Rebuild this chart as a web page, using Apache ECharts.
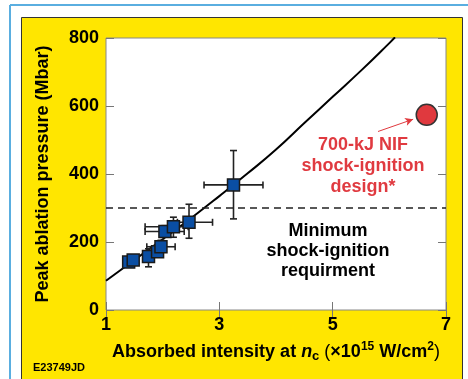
<!DOCTYPE html>
<html>
<head>
<meta charset="utf-8">
<script src="https://cdn.jsdelivr.net/npm/echarts@6/dist/echarts.min.js"></script>
<style>
	html, body { margin: 0; padding: 0; background: #fff; }
	#chart { width: 468px; height: 379px; }
</style>
</head>
<body>
<div id="chart"></div>
<script>
// x 轴刻度
const xTicks = [1, 3, 5, 7]
const yTicks = [0, 200, 400, 600, 800]

// 拟合曲线
const fitX = [1, 1.5, 2, 2.5, 3, 3.5, 4, 4.5, 5, 5.5, 6, 6.1]
const fitY = [86, 147, 208, 270, 335, 402, 472, 550, 627, 704, 785, 802]

// 实验点 + 误差棒
const expX = [1.40, 1.48, 1.75, 1.91, 1.97, 2.04, 2.19, 2.465, 3.25]
const expY = [141, 147, 157, 171, 186, 231, 245, 258, 368]
const xLo = [1.36, 1.44, 1.68, 1.84, 1.72, 1.69, 1.69, 2.26, 2.73]
const xHi = [1.44, 1.52, 1.84, 2.00, 2.22, 2.38, 2.45, 2.88, 3.77]
const yLo = [133, 139, 127, 158, 170, 215, 214, 211, 268]
const yHi = [149, 155, 180, 184, 205, 248, 273, 311, 469]

// NIF 设计点
const nifX = 6.66
const nifY = 574
const arrowFrom = [5.8, 525]
const arrowTo = [6.42, 561]
const threshold = 300

const myChart = echarts.init(document.getElementById('chart'))

const font = 'Liberation Sans, Arial, Helvetica, sans-serif'

let scatterData = expX.map((x, i) => [x, expY[i]])
let errData = expX.map((x, i) => [x, expY[i], xLo[i], xHi[i], yLo[i], yHi[i]])

function renderErr(params, api) {
	const c = api.coord([api.value(0), api.value(1)])
	const l = api.coord([api.value(2), api.value(1)])
	const r = api.coord([api.value(3), api.value(1)])
	const b = api.coord([api.value(0), api.value(4)])
	const t = api.coord([api.value(0), api.value(5)])
	const cap = 3.5
	const style = { stroke: '#222', lineWidth: 1.6 }
	const line = (x1, y1, x2, y2) => ({ type: 'line', shape: { x1, y1, x2, y2 }, style })
	return {
		type: 'group',
		children: [
			line(l[0], c[1], r[0], c[1]),
			line(l[0], c[1] - cap, l[0], c[1] + cap),
			line(r[0], c[1] - cap, r[0], c[1] + cap),
			line(c[0], b[1], c[0], t[1]),
			line(c[0] - cap, b[1], c[0] + cap, b[1]),
			line(c[0] - cap, t[1], c[0] + cap, t[1]),
		],
	}
}

const tickStyle = { show: true, inside: true, length: 8, lineStyle: { color: '#777', width: 1 } }

let option = {
	animation: false,
	textStyle: { fontFamily: font },
	graphic: [
		{ type: 'line', z: -20, shape: { x1: 10, y1: 5, x2: 10, y2: 379 }, style: { stroke: '#5AAEE0', lineWidth: 2 } },
		{ type: 'line', z: -20, shape: { x1: 10, y1: 5, x2: 468, y2: 5 }, style: { stroke: '#5AAEE0', lineWidth: 2 } },
		{ type: 'rect', z: -10, shape: { x: 21.5, y: 17.5, width: 441, height: 380 }, style: { fill: '#FFE600', stroke: '#333', lineWidth: 1 } },
		{
			type: 'text', x: 363, y: 166, z: 50,
			style: {
				text: '700-kJ NIF\nshock-ignition\ndesign*',
				fill: '#E03A40', font: 'bold 18px ' + font,
				align: 'center', verticalAlign: 'middle', lineHeight: 21,
			},
		},
		{
			type: 'text', x: 328, y: 251, z: 50,
			style: {
				text: 'Minimum\nshock-ignition\nrequirment',
				fill: '#000', font: 'bold 18px ' + font,
				align: 'center', verticalAlign: 'middle', lineHeight: 20,
			},
		},
		{
			type: 'text', x: 33, y: 368, z: 50,
			style: { text: 'E23749JD', fill: '#000', font: 'bold 11px ' + font, verticalAlign: 'middle' },
		},
	],
	grid: {
		left: 106,
		top: 38,
		width: 340,
		height: 272,
		show: true,
		backgroundColor: '#fff',
		borderColor: '#888',
		borderWidth: 1,
	},
	xAxis: [
		{
			type: 'value',
			min: xTicks[0],
			max: xTicks[xTicks.length - 1],
			interval: 2,
			splitLine: { show: false },
			axisLine: { show: false },
			axisTick: tickStyle,
			axisLabel: { color: '#000', fontSize: 18, fontWeight: 'bold', margin: 6 },
			name: '{b|Absorbed intensity at }{i|n}{sub|c}{p| (}{b|×10}{sup|15}{b| W/cm}{sup|2}{p|)}',
			nameLocation: 'middle',
			nameGap: 31,
			nameTextStyle: {
				rich: {
					b: { fontSize: 18, fontWeight: 'bold', color: '#000', lineHeight: 22 },
					i: { fontSize: 18, fontWeight: 'bold', fontStyle: 'italic', color: '#000', lineHeight: 22 },
					p: { fontSize: 18, fontWeight: 'normal', color: '#000', lineHeight: 22 },
					sub: { fontSize: 13, fontWeight: 'bold', color: '#000', lineHeight: 13, verticalAlign: 'bottom' },
					sup: { fontSize: 12, fontWeight: 'bold', color: '#000', lineHeight: 12, verticalAlign: 'top' },
				},
			},
		},
		{
			type: 'value',
			position: 'top',
			min: xTicks[0],
			max: xTicks[xTicks.length - 1],
			interval: 2,
			splitLine: { show: false },
			axisLine: { show: false },
			axisTick: tickStyle,
			axisLabel: { show: false },
		},
	],
	yAxis: [
		{
			type: 'value',
			min: yTicks[0],
			max: yTicks[yTicks.length - 1],
			interval: 200,
			splitLine: { show: false },
			axisLine: { show: false },
			axisTick: tickStyle,
			axisLabel: { color: '#000', fontSize: 18, fontWeight: 'bold', margin: 7 },
			name: 'Peak ablation pressure (Mbar)',
			nameLocation: 'middle',
			nameGap: 54,
			nameTextStyle: { color: '#000', fontSize: 18, fontWeight: 'bold' },
		},
		{
			type: 'value',
			position: 'right',
			min: yTicks[0],
			max: yTicks[yTicks.length - 1],
			interval: 200,
			splitLine: { show: false },
			axisLine: { show: false },
			axisTick: tickStyle,
			axisLabel: { show: false },
		},
	],
	series: [
		{
			type: 'line',
			data: fitX.map((x, i) => [x, fitY[i]]),
			smooth: true,
			showSymbol: false,
			clip: true,
			lineStyle: { color: '#000', width: 2 },
			z: 3,
			markLine: {
				silent: true,
				symbol: 'none',
				label: { show: false },
				lineStyle: { color: '#222', width: 1.7, type: [7, 5] },
				data: [{ yAxis: threshold }],
			},
		},
		{
			type: 'custom',
			renderItem: renderErr,
			data: errData,
			z: 4,
		},
		{
			type: 'scatter',
			symbol: 'rect',
			symbolSize: 12,
			data: scatterData,
			itemStyle: { color: '#0A4EA3', borderColor: '#1a1a1a', borderWidth: 1.5, opacity: 1 },
			z: 5,
		},
		{
			type: 'scatter',
			symbol: 'circle',
			symbolSize: 21,
			data: [[nifX, nifY]],
			itemStyle: { color: '#E0393E', borderColor: '#333', borderWidth: 1.5, opacity: 1 },
			z: 5,
			markLine: {
				silent: true,
				symbol: ['none', 'arrow'],
				symbolSize: [6, 8],
				label: { show: false },
				lineStyle: { color: '#E0393E', width: 1, type: 'solid' },
				data: [[{ coord: arrowFrom }, { coord: arrowTo }]],
			},
		},
	],
}

myChart.setOption(option)
// 自适应
window.addEventListener('resize', () => {
	myChart.resize()
})
</script>
</body>
</html>
